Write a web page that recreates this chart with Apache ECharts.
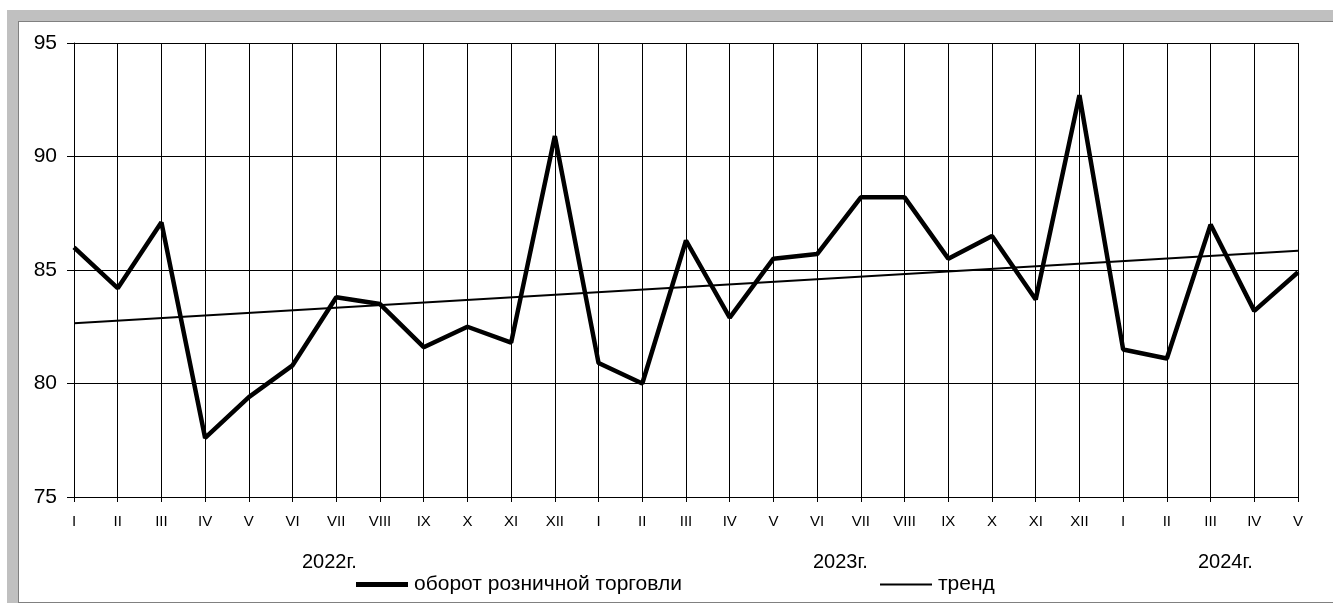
<!DOCTYPE html>
<html>
<head>
<meta charset="utf-8">
<script src="https://cdn.jsdelivr.net/npm/echarts@6/dist/echarts.min.js"></script>
<style>
  html, body { margin: 0; padding: 0; background: #fff; }
  #frame {
    position: absolute; left: 7px; top: 10px; width: 1326px; height: 593px;
    border-top: 11px solid #c0c0c0; border-left: 11px solid #c0c0c0;
    box-sizing: border-box;
  }
  #inner {
    position: absolute; left: 0; top: 0; right: 0; bottom: 0;
    border-top: 1px solid #808080; border-left: 1px solid #808080; border-bottom: 1px solid #808080;
  }
  #main { position: absolute; left: 0; top: 0; width: 1333px; height: 605px; }
</style>
</head>
<body>
<div id="frame"><div id="inner"></div></div>
<div id="main"></div>
<script>
// месяцы: 2022 I..XII, 2023 I..XII, 2024 I..V
var months = ['I','II','III','IV','V','VI','VII','VIII','IX','X','XI','XII',
              'I','II','III','IV','V','VI','VII','VIII','IX','X','XI','XII',
              'I','II','III','IV','V'];
var turnover = [86.0, 84.2, 87.1, 77.6, 79.4, 80.8, 83.8, 83.5, 81.6, 82.5, 81.8, 90.9,
                80.9, 80.0, 86.3, 82.9, 85.5, 85.7, 88.2, 88.2, 85.5, 86.5, 83.7, 92.7,
                81.5, 81.1, 87.0, 83.2, 84.9];
// тренд: значения на первом и последнем месяце
var trendStart = 82.65;
var trendEnd = 85.85;
var years = ['2022г.', '2023г.', '2024г.'];

var chart = echarts.init(document.getElementById('main'));
var font = 'Liberation Sans, Arial, sans-serif';

var option = {
  animation: false,
  grid: { left: 74, right: 35, top: 43, bottom: 108 },
  xAxis: {
    type: 'category',
    data: months,
    boundaryGap: false,
    axisLine: { lineStyle: { color: '#000', width: 1 } },
    axisTick: { show: true, length: 5, lineStyle: { color: '#000' } },
    axisLabel: { color: '#000', fontFamily: font, fontSize: 15, margin: 17, interval: 0 },
    splitLine: { show: true, lineStyle: { color: '#000', width: 1 } }
  },
  yAxis: {
    type: 'value',
    min: 75, max: 95, interval: 5,
    axisLine: { show: true, lineStyle: { color: '#000' } },
    axisTick: { show: true, inside: false, length: 7, lineStyle: { color: '#000' } },
    axisLabel: { color: '#000', fontFamily: font, fontSize: 21, margin: 17 },
    splitLine: { show: true, lineStyle: { color: '#000', width: 1 } }
  },
  legend: [
    {
      data: ['оборот розничной торговли'],
      left: 356, top: 574, padding: 0,
      icon: 'rect', itemWidth: 52, itemHeight: 5,
      textStyle: { color: '#000', fontFamily: font, fontSize: 21, padding: [0, 0, 0, 1] }
    },
    {
      data: ['тренд'],
      left: 880, top: 574, padding: 0,
      icon: 'rect', itemWidth: 52, itemHeight: 2,
      textStyle: { color: '#000', fontFamily: font, fontSize: 21, padding: [0, 0, 0, 1] }
    }
  ],
  graphic: [
    { type: 'text', left: 302, top: 552, style: { text: years[0], fill: '#000', font: '20px ' + font } },
    { type: 'text', left: 813, top: 552, style: { text: years[1], fill: '#000', font: '20px ' + font } },
    { type: 'text', left: 1198, top: 552, style: { text: years[2], fill: '#000', font: '20px ' + font } }
  ],
  series: [
    {
      name: 'оборот розничной торговли',
      type: 'line',
      data: turnover,
      symbol: 'none',
      lineStyle: { color: '#000', width: 4.5 },
      itemStyle: { color: '#000' },
      z: 3
    },
    {
      name: 'тренд',
      type: 'line',
      data: [[0, trendStart], [months.length - 1, trendEnd]],
      symbol: 'none',
      lineStyle: { color: '#000', width: 2 },
      itemStyle: { color: '#000' },
      z: 2
    }
  ]
};
chart.setOption(option);
</script>
</body>
</html>
